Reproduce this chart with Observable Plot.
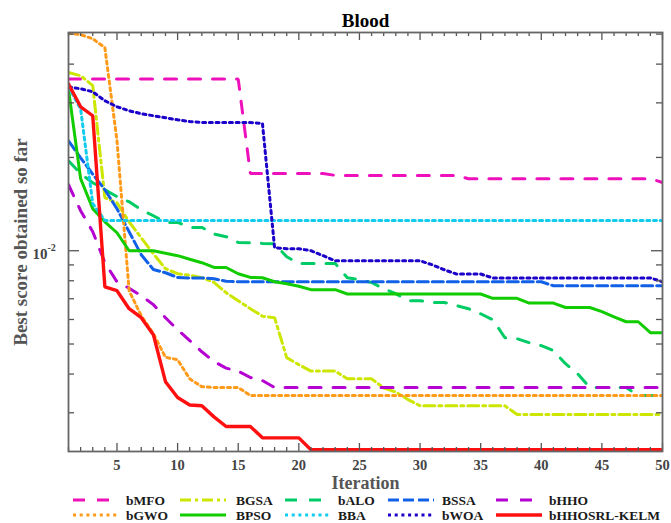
<!DOCTYPE html>
<html><head><meta charset="utf-8">
<script src="https://cdn.jsdelivr.net/npm/d3@7"></script>
<script src="https://cdn.jsdelivr.net/npm/@observablehq/plot@0.6"></script>
<style>
body{margin:0;background:#fff;overflow:hidden;}
#wrap{position:relative;width:671px;height:523px;}
#legend{position:absolute;left:0;top:490px;overflow:visible;}
</style></head><body><div id="wrap"></div>
<script>
const iterations = [1,2,3,4,5,6,7,8,9,10,11,12,13,14,15,16,17,18,19,20,21,22,23,24,25,26,27,28,29,30,31,32,33,34,35,36,37,38,39,40,41,42,43,44,45,46,47,48,49,50];
const xTickLabels = [5,10,15,20,25,30,35,40,45,50];
const yMajorTicks = [0.01];
const yMinorTicks = [0.003,0.004,0.005,0.006,0.007,0.008,0.009,0.02,0.03,0.04,0.05];

const bMFO = [0.0358,0.0358,0.0358,0.0358,0.0358,0.0358,0.0358,0.0358,0.0358,0.0358,
  0.0358,0.0358,0.0358,0.0358,0.0358,0.01776,0.01776,0.01776,0.01776,0.01776,
  0.01776,0.01776,0.0175,0.0175,0.0175,0.0175,0.0175,0.0175,0.0175,0.0175,
  0.0175,0.0175,0.0175,0.01708,0.01708,0.01708,0.01708,0.01708,0.01708,0.01708,
  0.01708,0.01708,0.01708,0.01708,0.01708,0.01708,0.01708,0.01708,0.01708,0.0166];
const BGSA = [0.0376,0.0367,0.0341,0.01483,0.01428,0.0124,0.01101,0.00978,0.00875,0.00843,
  0.00834,0.00818,0.00791,0.00732,0.0069,0.0065,0.00615,0.00608,0.00452,0.00429,
  0.00409,0.00409,0.00409,0.00386,0.00386,0.00386,0.00361,0.0035,0.00331,0.00316,
  0.00316,0.00316,0.00316,0.00316,0.00316,0.00316,0.00316,0.00296,0.00296,0.00296,
  0.00296,0.00296,0.00296,0.00296,0.00296,0.00296,0.00296,0.00296,0.00296,0.00296];
const bALO = [0.0195,0.01772,0.01658,0.01573,0.01494,0.01439,0.01356,0.01297,0.01234,0.01234,
  0.01189,0.01189,0.01132,0.0111,0.01064,0.01061,0.01056,0.01053,0.00956,0.0091,
  0.0091,0.0091,0.0091,0.00818,0.00806,0.0079,0.00754,0.00727,0.0069,0.0069,
  0.00681,0.00681,0.00665,0.0065,0.00626,0.00599,0.00524,0.0052,0.00505,0.00494,
  0.00476,0.00432,0.00401,0.00362,0.00362,0.00362,0.00362,0.00341,0.00341,0.00341];
const BSSA = [0.0226,0.01995,0.01766,0.01573,0.01366,0.01152,0.00971,0.0087,0.00849,0.0082,
  0.00817,0.00817,0.00812,0.00797,0.00794,0.00794,0.00794,0.00794,0.00794,0.00794,
  0.00794,0.00794,0.00794,0.00794,0.00794,0.00794,0.00794,0.00794,0.00794,0.00794,
  0.00794,0.00794,0.00794,0.00794,0.00794,0.00794,0.00794,0.00794,0.00794,0.00794,
  0.00771,0.00771,0.00771,0.00771,0.00771,0.00771,0.00771,0.00771,0.00771,0.00771];
const bHHO = [0.01633,0.01346,0.01152,0.00915,0.00794,0.00757,0.00716,0.0067,0.00608,0.00556,
  0.00513,0.00472,0.00439,0.00418,0.00409,0.0039,0.00381,0.00362,0.00362,0.00362,
  0.00362,0.00362,0.00362,0.00362,0.00362,0.00362,0.00362,0.00362,0.00362,0.00362,
  0.00362,0.00362,0.00362,0.00362,0.00362,0.00362,0.00362,0.00362,0.00362,0.00362,
  0.00362,0.00362,0.00362,0.00362,0.00362,0.00362,0.00362,0.00362,0.00362,0.00362];
const bGWO = [0.0503,0.0498,0.0483,0.0452,0.02263,0.00743,0.00617,0.0054,0.00453,0.00445,
  0.00386,0.00364,0.00362,0.00362,0.00362,0.00341,0.00341,0.00341,0.00341,0.00341,
  0.00341,0.00341,0.00341,0.00341,0.00341,0.00341,0.00341,0.00341,0.00341,0.00341,
  0.00341,0.00341,0.00341,0.00341,0.00341,0.00341,0.00341,0.00341,0.00341,0.00341,
  0.00341,0.00341,0.00341,0.00341,0.00341,0.00341,0.00341,0.00341,0.00341,0.00341];
const BPSO = [0.0332,0.01708,0.01366,0.0124,0.01143,0.01,0.01,0.01,0.00982,0.00964,
  0.00939,0.00915,0.00883,0.00883,0.00843,0.0082,0.00818,0.00794,0.00782,0.00768,
  0.00749,0.00749,0.00749,0.00725,0.00725,0.00725,0.00725,0.00725,0.00725,0.00725,
  0.00725,0.00725,0.00725,0.00725,0.00725,0.00702,0.00702,0.00702,0.00678,0.00678,
  0.00678,0.00656,0.00656,0.00656,0.00636,0.00612,0.0059,0.0059,0.00544,0.00544];
const BBA = [0.0338,0.0287,0.01418,0.01252,0.01252,0.01252,0.01252,0.01252,0.01252,0.01252,
  0.01252,0.01252,0.01252,0.01252,0.01252,0.01252,0.01252,0.01252,0.01252,0.01252,
  0.01252,0.01252,0.01252,0.01252,0.01252,0.01252,0.01252,0.01252,0.01252,0.01252,
  0.01252,0.01252,0.01252,0.01252,0.01252,0.01252,0.01252,0.01252,0.01252,0.01252,
  0.01252,0.01252,0.01252,0.01252,0.01252,0.01252,0.01252,0.01252,0.01252,0.01252];
const bWOA = [0.0338,0.0333,0.03258,0.03047,0.02914,0.02829,0.02767,0.02726,0.02685,0.02645,
  0.02612,0.02593,0.02593,0.02593,0.02593,0.02593,0.02574,0.01023,0.01015,0.01015,
  0.01,0.00964,0.00928,0.00928,0.00928,0.00928,0.00928,0.00928,0.00928,0.00928,
  0.00901,0.00868,0.00841,0.00841,0.00841,0.00817,0.00817,0.00817,0.00817,0.00817,
  0.00817,0.00817,0.00817,0.00817,0.00817,0.00817,0.00817,0.00817,0.00817,0.00794];
const bHHOSRL_KELM = [0.0345,0.02914,0.02726,0.00765,0.00743,0.0065,0.00608,0.00536,0.00378,0.00336,
  0.00318,0.00316,0.00291,0.00271,0.00271,0.00271,0.00249,0.00249,0.00249,0.00249,
  0.00228,0.00228,0.00228,0.00228,0.00228,0.00228,0.00228,0.00228,0.00228,0.00228,
  0.00228,0.00228,0.00228,0.00228,0.00228,0.00228,0.00228,0.00228,0.00228,0.00228,
  0.00228,0.00228,0.00228,0.00228,0.00228,0.00228,0.00228,0.00228,0.00228,0.00228];

const seriesNames = ["bMFO","BGSA","bALO","BSSA","bHHO","bGWO","BPSO","BBA","bWOA","bHHOSRL-KELM"];
const seriesValues = [bMFO,BGSA,bALO,BSSA,bHHO,bGWO,BPSO,BBA,bWOA,bHHOSRL_KELM];
const seriesColors = ["#ee11bb","#cce600","#00cc66","#1060e8","#b400d0","#ff9a1a","#11cc00","#11ccee","#1a00c8","#ff1010"];
const seriesDash = ["12,12","11,4,3,4","12,12","11,4","12,12","3,3.7","none","3,3.7","3,3.7","none"];
const seriesWidth = [3,3,3,3,3,3,3,3,3,3.4];

const W = 671, H = 497;
const mt = 32, ml = 68, mr = 671 - 662, mb = H - 451;
const innerW = W - ml - mr, innerH = H - mt - mb;
const tickColor = "#555";

const marks = [];
seriesNames.forEach((name, k) => {
  const rows = iterations.map((it, i) => ({it, v: seriesValues[k][i], name}));
  marks.push(Plot.line(rows, {x: "it", y: "v", stroke: seriesColors[k], strokeWidth: seriesWidth[k],
    strokeDasharray: seriesDash[k], strokeLinejoin: "miter", clip: true}));
});
const xMinor = iterations.filter(d => d % 5 !== 0);
// inward ticks (box style)
marks.push(Plot.ruleX(xMinor, {x: d => d, insetTop: innerH - 4, stroke: tickColor, strokeWidth: 1.3}));
marks.push(Plot.ruleX(xMinor, {x: d => d, insetBottom: innerH - 4, stroke: tickColor, strokeWidth: 1.3}));
marks.push(Plot.ruleX(xTickLabels, {x: d => d, insetTop: innerH - 8, stroke: tickColor, strokeWidth: 1.3}));
marks.push(Plot.ruleX(xTickLabels, {x: d => d, insetBottom: innerH - 8, stroke: tickColor, strokeWidth: 1.3}));
marks.push(Plot.ruleY(yMinorTicks, {y: d => d, insetRight: innerW - 6, stroke: tickColor, strokeWidth: 1.3}));
marks.push(Plot.ruleY(yMinorTicks, {y: d => d, insetLeft: innerW - 6, stroke: tickColor, strokeWidth: 1.3}));
marks.push(Plot.ruleY(yMajorTicks, {y: d => d, insetRight: innerW - 11, stroke: tickColor, strokeWidth: 1.3}));
marks.push(Plot.ruleY(yMajorTicks, {y: d => d, insetLeft: innerW - 11, stroke: tickColor, strokeWidth: 1.3}));
marks.push(Plot.frame({stroke: "#666", strokeWidth: 1.8}));
// tick labels
marks.push(Plot.text(xTickLabels, {x: d => d, frameAnchor: "bottom", lineAnchor: "middle", dy: 13.5, text: d => String(d),
  fontSize: 14.5, fontWeight: "bold", fill: "#444"}));
marks.push(Plot.text(yMajorTicks, {y: d => d, frameAnchor: "left", lineAnchor: "middle", dx: -21, dy: 3, textAnchor: "end",
  text: () => "10", fontSize: 15, fontWeight: "bold", fill: "#444"}));
marks.push(Plot.text(yMajorTicks, {y: d => d, frameAnchor: "left", lineAnchor: "middle", dx: -21, dy: -3, textAnchor: "start",
  text: () => "-2", fontSize: 10, fontWeight: "bold", fill: "#444"}));
// titles
marks.push(Plot.text(["Blood"], {frameAnchor: "top", lineAnchor: "middle", dy: -12, text: d => d, fontSize: 19, fontWeight: "bold", fill: "#000"}));
marks.push(Plot.text(["Iteration"], {frameAnchor: "bottom", lineAnchor: "middle", dy: 32, text: d => d, fontSize: 18, fontWeight: "bold", fill: "#555"}));
marks.push(Plot.text(["Best score obtained so far"], {frameAnchor: "left", lineAnchor: "middle", textAnchor: "middle",
  dx: -48, rotate: -90, text: d => d, fontSize: 19, fontWeight: "bold", fill: "#555"}));

const chart = Plot.plot({
  width: W, height: H,
  marginTop: mt, marginLeft: ml, marginRight: mr, marginBottom: mb,
  style: {fontFamily: "'Liberation Serif', 'Times New Roman', serif", background: "#fff", overflow: "visible"},
  x: {domain: [1, 50], axis: null},
  y: {type: "log", domain: [0.00225, 0.0506], axis: null},
  marks
});
const wrap = document.getElementById("wrap");
wrap.appendChild(chart);

// legend below the plot
const legendRows = [["bMFO","BGSA","bALO","BSSA","bHHO"],["bGWO","BPSO","BBA","bWOA","bHHOSRL-KELM"]];
const swX = [73, 180, 285, 388, 496];
const lbX = [126, 236, 338, 442, 549];
const rowY = [10, 25];
const leg = d3.select(wrap).append("svg").attr("id", "legend").attr("width", 671).attr("height", 33)
  .style("font-family", "'Liberation Serif', 'Times New Roman', serif");
legendRows.forEach((row, r) => {
  row.forEach((name, c) => {
    const k = seriesNames.indexOf(name);
    leg.append("line").attr("x1", swX[c]).attr("x2", swX[c] + 46).attr("y1", rowY[r]).attr("y2", rowY[r])
      .attr("stroke", seriesColors[k]).attr("stroke-width", seriesWidth[k])
      .attr("stroke-dasharray", seriesDash[k]);
    leg.append("text").attr("x", lbX[c]).attr("y", rowY[r]).attr("dy", "0.35em")
      .attr("font-size", 13.5).attr("font-weight", "bold").attr("fill", "#1a1a1a").text(name);
  });
});
</script></body></html>
